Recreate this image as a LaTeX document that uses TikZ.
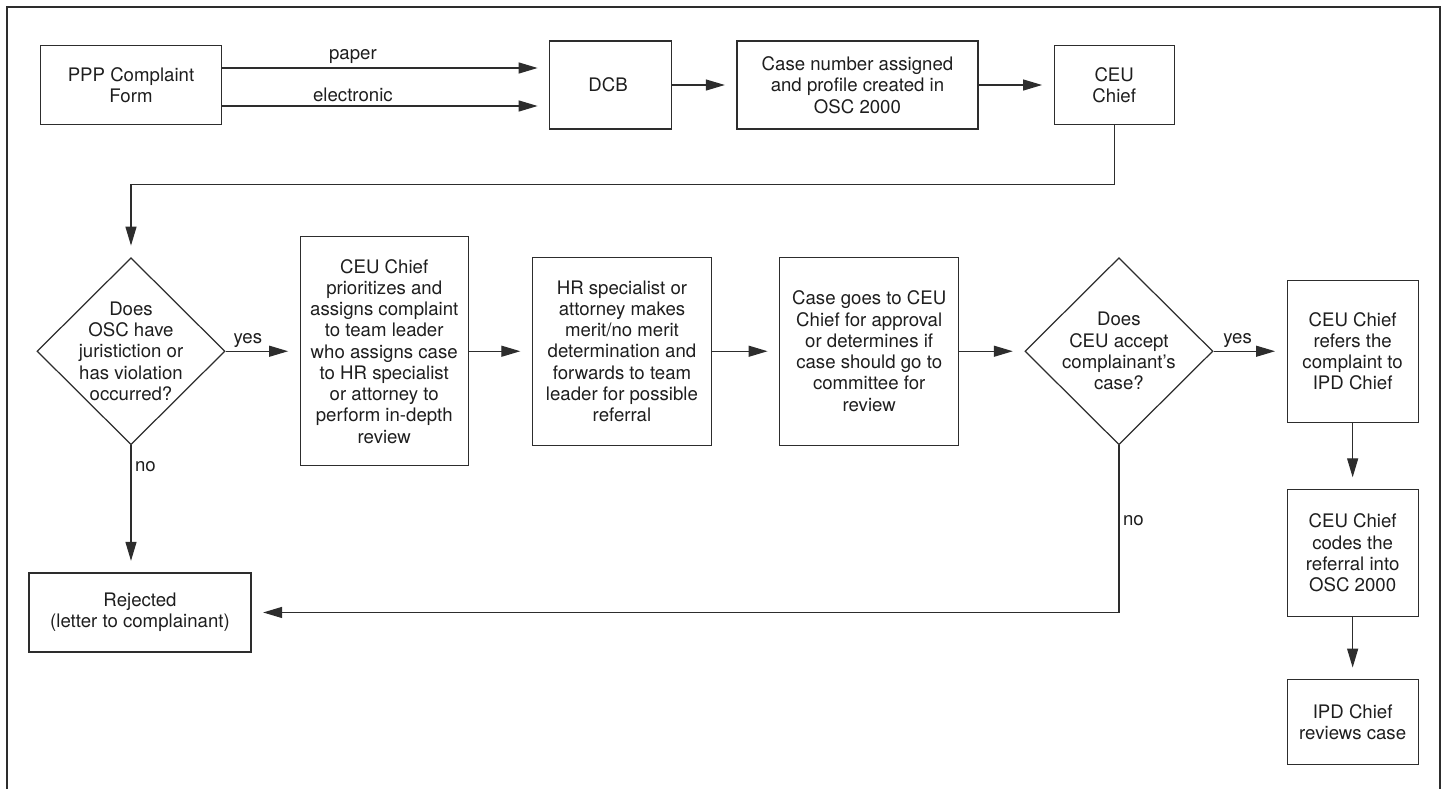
\documentclass[tikz,border=0pt]{standalone}
\usepackage{fontspec}
\setsansfont{TeX Gyre Heros}
\usetikzlibrary{
  shapes.geometric,
  positioning,
  calc,
  arrows.meta}
\tikzset{
  flow_arrow/.style={-{Triangle[length=0.38cm, width=0.22cm]}, shorten >=0.23cm, draw=linecolor, line width=0.7pt}
}
\definecolor{linecolor}{RGB}{45,45,45}
\definecolor{textcolor}{RGB}{30,30,30}
\tikzset{
  %% process : an ordinary step of the complaint handling
  process/.style={
    rectangle,
    draw=linecolor,
    line width=0.7pt,
    text=textcolor,
    align=center
  },
  %% decision : a yes/no question
  %%      (inner sep is negative so the text does not grow the diamond)
  decision/.style={
    diamond,
    draw=linecolor,
    line width=0.7pt,
    text=textcolor,
    inner sep=-3pt,
    aspect=1,
    minimum width=3.76cm,
    minimum height=3.74cm,
    align=center
  },
  %% answer : label on a connector
  answer/.style={
    text=textcolor,
    inner sep=2pt
  },
  %% frame : frame around the chart
  %% This is a path, use as
  %%    \draw [frame] (lower left) -- (upper left) -- ...
  frame/.style={linecolor, line width=0.8pt}
}

\begin{document}
\begin{tikzpicture}
  [x=1cm,
  y=-1cm,
  align=center,
  font=\fontsize{10.6}{12.1}\selectfont,
  node distance=1.3cm and 1.3cm]
  \sffamily

  \useasboundingbox (0, 0) rectangle (28.94, 15.78);

  %% Grid for orientation. Comment out for final figure!
% \draw[help lines, green](0, 0) grid (29, 16);

  %% Top row: intake
  \node (form) [process, minimum width=3.62cm, minimum height=1.58cm] at (2.62, 1.70) {%
    PPP Complaint\\Form
  };

  \node (dcb) [right=6.54cm of form, process, minimum width=2.44cm, minimum height=1.76cm]{%
    DCB
  };

  \node (casenum) [right=1.28cm of dcb, process, minimum width=4.82cm, minimum height=1.76cm]{%
    Case number assigned\\and profile created in\\OSC 2000
  };

  \node (ceu) [right=1.5cm of casenum, process, minimum width=2.40cm, minimum height=1.58cm]{%
    CEU\\Chief
  };

  %% Middle row: review
  \node (check) [below=2.64cm of form, decision]{%
    Does\\OSC have\\juristiction or\\has violation\\occurred?
  };

  \node (review) [right=1.48cm of check, process, minimum width=3.36cm, minimum height=4.58cm]{%
    CEU Chief\\prioritizes and\\assigns complaint\\to team leader\\who assigns case\\to HR specialist\\or attorney to\\perform in-depth\\review
  };

  \node (merit) [right=1.26cm of review, process, minimum width=3.58cm, minimum height=3.76cm]{%
    HR specialist or\\attorney makes\\merit/no merit\\determination and\\forwards to team\\leader for possible\\referral
  };

  \node (approval) [right=1.34cm of merit, process, minimum width=3.58cm, minimum height=3.76cm]{%
    Case goes to CEU\\Chief for approval\\or determines if\\case should go to\\committee for\\review
  };

  \node (accept) [right=1.30cm of approval, decision]{%
    Does\\CEU accept\\complainant’s\\case?
  };

  \node (refer) [right=1.46cm of accept, process, minimum width=2.62cm, minimum height=2.84cm]{%
    CEU Chief\\refers the\\complaint to\\IPD Chief
  };

  %% Right column: referral
  \node (codes) [below=1.32cm of refer, process, minimum width=2.62cm, minimum height=2.54cm]{%
    CEU Chief\\codes the\\referral into\\OSC 2000
  };

  \node (ipd) [below=1.24cm of codes, process, minimum width=2.62cm, minimum height=1.70cm]{%
    IPD Chief\\reviews case
  };

  %% Rejection
  \node (rejected) [below=2.54cm of check, xshift=0.18cm, process, minimum width=4.44cm, minimum height=1.58cm]{%
    Rejected\\(letter to complainant)
  };

  %% Connections
  \draw [flow_arrow] ($(form.east)+(0,-0.34)$) -- node[answer, above, pos=0.4]{paper} ($(dcb.west)+(0,-0.34)$);
  \draw [flow_arrow] ($(form.east)+(0,0.42)$) -- node[answer, above, pos=0.4]{electronic} ($(dcb.west)+(0,0.42)$);
  \draw [flow_arrow] (dcb) -- (casenum);
  \draw [flow_arrow] (casenum) -- (ceu);
  \draw [flow_arrow] (ceu.south) -- ++(0, 1.19) -| (check.north);

  \draw [flow_arrow] (check) -- node[answer, above, pos=0.3]{yes} (review);
  \draw [flow_arrow] (review) -- (merit);
  \draw [flow_arrow] (merit) -- (approval);
  \draw [flow_arrow] (approval) -- (accept);
  \draw [flow_arrow] (accept) -- node[answer, above, pos=0.33]{yes} (refer);
  \draw [flow_arrow] (refer) -- (codes);
  \draw [flow_arrow] (codes) -- (ipd);

  %% No answers
  \draw [flow_arrow] (check.south) -- node[answer, right, pos=0.17]{no} (check.south |- rejected.north);
  \draw [flow_arrow] (accept.south) |- node[answer, right, pos=0.225]{no} (rejected.east);

  %% Frame around chart
  \draw [frame] (0.14, 15.78) -- (0.14, 0.14) -- (28.80, 0.14) -- (28.80, 15.78);

\end{tikzpicture}
\end{document}
